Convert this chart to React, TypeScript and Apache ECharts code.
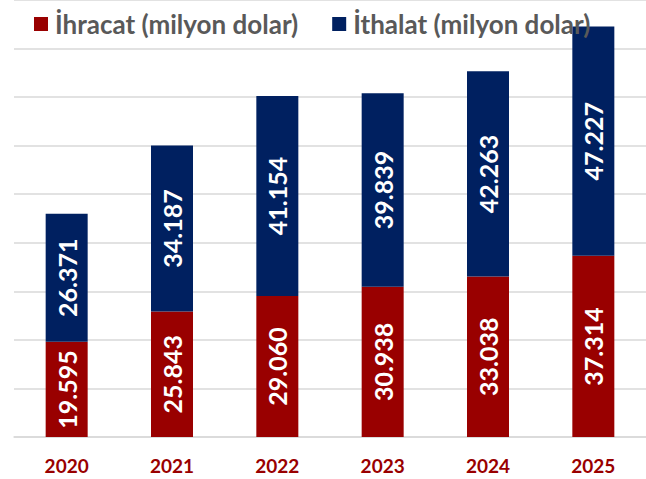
import React, { useEffect, useRef } from "react";
import * as echarts from "echarts";

const years = ["2020", "2021", "2022", "2023", "2024", "2025"];
const exportsM = [19595, 25843, 29060, 30938, 33038, 37314];
const importsM = [26371, 34187, 41154, 39839, 42263, 47227];
const seriesNames = ["İhracat (milyon dolar)", "İthalat (milyon dolar)"];

const fmt = (v: number) => v.toLocaleString("de-DE");
const FONT = "Lato";

export default function App() {
  const ref = useRef<HTMLDivElement>(null);
  useEffect(() => {
    if (!ref.current) return;
    const chart = echarts.init(ref.current, undefined, { renderer: "svg" });
    const label = {
      show: true,
      position: "inside",
      rotate: 90,
      color: "#ffffff",
      fontFamily: FONT,
      fontWeight: "bold",
      fontSize: 25,
      formatter: (p: any) => fmt(p.value),
    };
    chart.setOption({
      animation: false,
      legend: {
        left: 29,
        top: 6,
        itemWidth: 14,
        itemHeight: 14,
        itemGap: 34,
        icon: "rect",
        textStyle: { fontFamily: FONT, fontWeight: "bold", fontSize: 26, color: "#595959", padding: [0, 0, 0, 2] },
        data: seriesNames,
      },
      grid: { left: 14, top: 0, width: 647, height: 437, containLabel: false },
      xAxis: {
        type: "category",
        data: years,
        axisLine: { lineStyle: { color: "#d9d9d9", width: 1.5 } },
        axisTick: { show: false },
        axisLabel: { color: "#990000", fontFamily: FONT, fontWeight: "bold", fontSize: 19, margin: 19 },
      },
      yAxis: {
        type: "value",
        min: 0,
        max: 90000,
        interval: 10000,
        axisLabel: { show: false },
        splitLine: { lineStyle: { color: "#d9d9d9", width: 1.5 } },
      },
      series: [
        {
          name: seriesNames[0],
          type: "bar",
          stack: "t",
          barWidth: 42,
          data: exportsM,
          itemStyle: { color: "#990000" },
          label,
        },
        {
          name: seriesNames[1],
          type: "bar",
          stack: "t",
          barWidth: 42,
          data: importsM,
          itemStyle: { color: "#002060" },
          label,
        },
      ],
    });
    return () => chart.dispose();
  }, []);
  return (
    <div
      ref={ref}
      style={{ position: "fixed", left: 0, top: 0, width: 646, height: 479, background: "#fff" }}
    />
  );
}
